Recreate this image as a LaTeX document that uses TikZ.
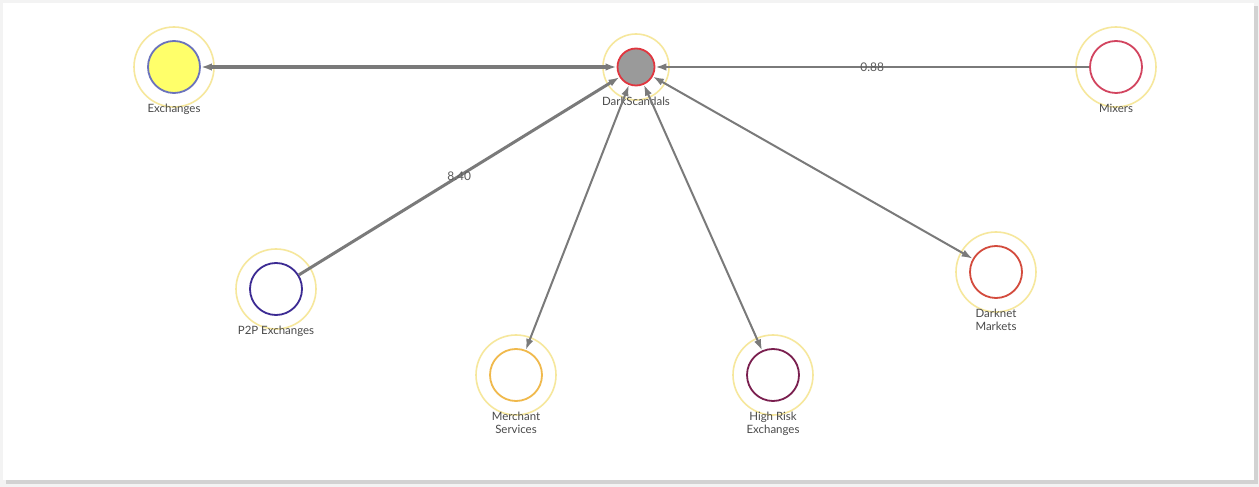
\documentclass[tikz,border=0pt]{standalone}
\usepackage{fontspec}
\newfontfamily\lblfont{Lato}
\usetikzlibrary{arrows.meta}

\definecolor{pagebg}{HTML}{F3F3F3}
\definecolor{shadowc}{HTML}{D2D2D2}
\definecolor{ringc}{HTML}{F6E79C}
\definecolor{edgec}{HTML}{7A7A7A}
\definecolor{textc}{HTML}{4A4A4A}
\definecolor{exfill}{HTML}{FFFF6A}
\definecolor{exline}{HTML}{6B73BC}
\definecolor{dsfill}{HTML}{9A9A9A}
\definecolor{dsline}{HTML}{E0363F}
\definecolor{mxline}{HTML}{D2445F}
\definecolor{ppline}{HTML}{3C2B93}
\definecolor{msline}{HTML}{F0B94C}
\definecolor{hrline}{HTML}{7A1F4F}
\definecolor{dmline}{HTML}{D34B3D}

\tikzset{
  ring/.style={circle, draw=ringc, line width=1.6bp, minimum size=80bp, inner sep=0},
  acct/.style={circle, draw, fill=white, line width=1.8bp, minimum size=52bp, inner sep=0},
  lbl/.style={font=\lblfont\fontsize{11.5}{13}\selectfont, text=textc, align=center, inner sep=0},
  every label/.style={lbl},
  flow/.style={draw=edgec, line width=2bp, -{Latex[length=11bp,width=7.5bp]}},
  both/.style={flow, {Latex[length=11bp,width=7.5bp]}-{Latex[length=11bp,width=7.5bp]}},
  elbl/.style={lbl, font=\lblfont\fontsize{12}{13}\selectfont, text=textc!90}
}

\begin{document}
\begin{tikzpicture}[x=1bp, y=-1bp, label distance=10bp]
  \useasboundingbox (0,0) rectangle (1259,487);
  % card
  \fill[pagebg] (0,0) rectangle (1259,487);
  \fill[shadowc] (6,6) rectangle (1258,484);
  \fill[white] (3,3) rectangle (1254,480);

  % outer rings
  \node[ring, minimum size=66bp] (dsR) at (636,67) {};
  \node[ring] (exR) at (174,67) {};
  \node[ring] (mxR) at (1116,67) {};
  \node[ring] (ppR) at (276,289) {};
  \node[ring] (msR) at (516,375) {};
  \node[ring] (hrR) at (773,375) {};
  \node[ring] (dmR) at (996,272) {};

  % accounts
  \node[acct, fill=dsfill, draw=dsline, minimum size=37bp, label=below:DarkScandals] (ds) at (636,67) {};
  \node[acct, fill=exfill, draw=exline, label=below:Exchanges] (ex) at (174,67) {};
  \node[acct, draw=mxline, label=below:Mixers] (mx) at (1116,67) {};
  \node[acct, draw=ppline, label=below:P2P Exchanges] (pp) at (276,289) {};
  \node[acct, draw=msline, label={below:Merchant\\Services}] (ms) at (516,375) {};
  \node[acct, draw=hrline, label={below:High Risk\\Exchanges}] (hr) at (773,375) {};
  \node[acct, draw=dmline, label={below:Darknet\\Markets}] (dm) at (996,272) {};

  % flows
  \draw[both, line width=3.5bp] (ex) -- (ds);
  \draw[flow] (mx) -- node[elbl] {0.88} (ds);
  \draw[flow, line width=3bp] (pp) -- node[elbl] {8.40} (ds);
  \draw[both] (ds) -- (ms);
  \draw[both] (ds) -- (hr);
  \draw[both] (ds) -- (dm);
\end{tikzpicture}
\end{document}
